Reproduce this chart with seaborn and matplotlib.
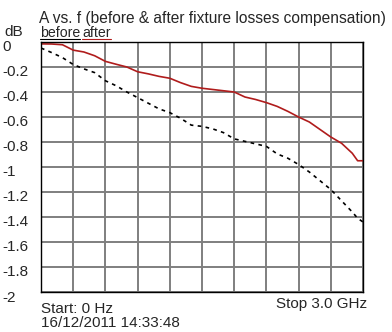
import numpy as np
import pandas as pd
import matplotlib
matplotlib.use("Agg")
import matplotlib.pyplot as plt
import matplotlib.transforms as mtransforms
from matplotlib.lines import Line2D
import seaborn as sns

# ---- data ----
freq_ghz = [0.0, 0.1, 0.2, 0.3, 0.4, 0.5, 0.6, 0.7, 0.8, 0.9, 1.0,
            1.1, 1.2, 1.3, 1.4, 1.5, 1.6, 1.7, 1.8, 1.9, 2.0,
            2.1, 2.2, 2.3, 2.4, 2.5, 2.6, 2.7, 2.8, 2.9, 2.95, 3.0]
after_db = [-0.015, -0.016, -0.022, -0.065, -0.08, -0.11, -0.155, -0.178, -0.20, -0.238, -0.255,
            -0.275, -0.29, -0.325, -0.355, -0.37, -0.38, -0.39, -0.40, -0.44, -0.46,
            -0.485, -0.515, -0.555, -0.60, -0.64, -0.70, -0.76, -0.81, -0.89, -0.95, -0.95]
before_db = [-0.048, -0.085, -0.125, -0.18, -0.215, -0.245, -0.31, -0.35, -0.40, -0.445, -0.49,
             -0.535, -0.565, -0.61, -0.665, -0.675, -0.695, -0.725, -0.775, -0.795, -0.815,
             -0.835, -0.895, -0.93, -0.98, -1.04, -1.11, -1.18, -1.27, -1.36, -1.41, -1.44]
y_ticks = [0, -0.2, -0.4, -0.6, -0.8, -1, -1.2, -1.4, -1.6, -1.8, -2]
y_tick_labels = ["0", "-0.2", "-0.4", "-0.6", "-0.8", "-1", "-1.2", "-1.4", "-1.6", "-1.8", "-2"]
title = "A vs. f (before & after fixture losses compensation)"
series_names = ["before", "after"]
start_label = "Start: 0 Hz"
stop_label = "Stop 3.0 GHz"
date_label = "16/12/2011 14:33:48"
unit_label = "dB"

df = pd.concat([
    pd.DataFrame({"f": freq_ghz, "dB": before_db, "trace": "before"}),
    pd.DataFrame({"f": freq_ghz, "dB": after_db, "trace": "after"}),
])

sns.set_style("white")
plt.rcParams["font.family"] = ["Liberation Sans", "DejaVu Sans"]

W, H = 392, 332
fig = plt.figure(figsize=(W / 100, H / 100), dpi=100)
L, R, T, B = 41, 363, 42, 292
ax = fig.add_axes([L / W, 1 - B / H, (R - L) / W, (B - T) / H])

red = "#b01c1c"
sns.lineplot(data=df, x="f", y="dB", hue="trace", style="trace",
             palette={"before": "black", "after": red},
             dashes={"before": (2.2, 2.6), "after": ""},
             linewidth=1.2, legend=False, ax=ax, zorder=3)

fs = 11
ax.set_xlim(0, 3.0)
ax.set_ylim(-2, 0)
ax.set_xticks(np.linspace(0, 3.0, 11))
ax.set_xticklabels([])
ax.set_yticks(y_ticks)
ax.set_yticklabels(y_tick_labels, fontsize=fs, ha="left")
ax.tick_params(axis="y", length=0, pad=28)
ax.tick_params(axis="x", length=0)
shift = mtransforms.ScaledTranslation(0, -4 / 100, fig.dpi_scale_trans)
for lab in ax.get_yticklabels():
    lab.set_transform(lab.get_transform() + shift)
ax.grid(True, color="#7f7f7f", linewidth=1.4)
ax.set_xlabel("")
ax.set_ylabel("")
for s in ax.spines.values():
    s.set_color("black")
    s.set_linewidth(1.0)
    s.set_zorder(4)

def px(x, y):
    return x / W, 1 - y / H

fig.text(*px(39, 23), title, fontsize=11.2, va="baseline", ha="left")
fig.text(*px(4, 36), unit_label, fontsize=fs, va="baseline", ha="left")
t_before = fig.text(*px(40, 37), series_names[0], fontsize=10.2, va="baseline", ha="left")
t_after = fig.text(*px(82, 37), series_names[1], fontsize=10.2, va="baseline", ha="left")
fig.text(*px(41, 313), start_label, fontsize=fs, va="baseline", ha="left")
fig.text(*px(276, 308), stop_label, fontsize=fs, va="baseline", ha="left")
fig.text(*px(41, 327), date_label, fontsize=fs, va="baseline", ha="left")

fig.canvas.draw()
r = fig.canvas.get_renderer()
for t, c in [(t_before, "black"), (t_after, red)]:
    bb = t.get_window_extent(r)
    yl = (H - 39) / H
    fig.add_artist(Line2D([bb.x0 / W, bb.x1 / W], [yl, yl], color=c, linewidth=0.8,
                          transform=fig.transFigure))

fig.savefig("out.png", dpi=100)
